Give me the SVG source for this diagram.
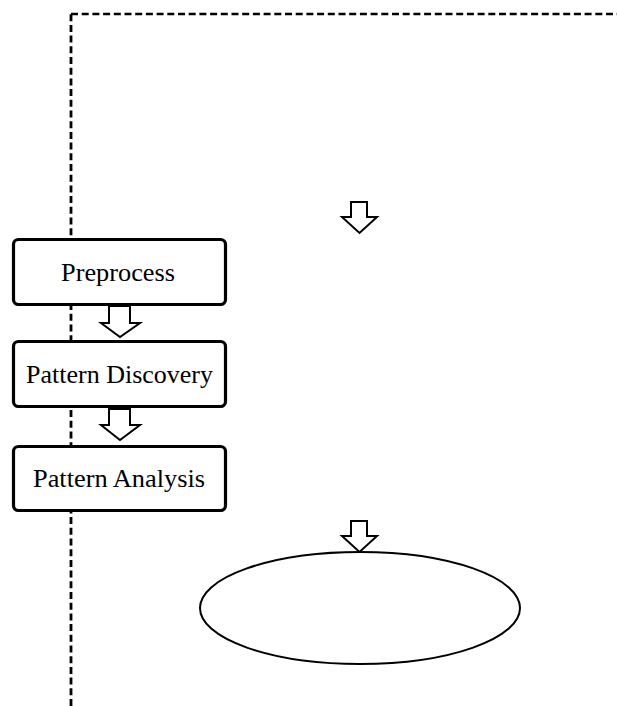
<svg xmlns="http://www.w3.org/2000/svg" width="617" height="706" viewBox="0 0 617 706">
<style>
.dashv{fill:none;stroke:#000;stroke-width:2.8;stroke-dasharray:7 3.7}
.dashh{fill:none;stroke:#000;stroke-width:2.3;stroke-dasharray:7 3.7}
.box{fill:#fff;stroke:#000;stroke-width:3.2}
.arr{fill:#fff;stroke:#000;stroke-width:2;stroke-linejoin:miter}
.lbl{font-family:"Liberation Serif","Times New Roman",serif;font-size:25px;fill:#000;text-anchor:middle}
</style>
<rect width="617" height="706" fill="#fff"/>
<g id="boundary">
<path class="dashv" d="M71,706 V13"/>
<path class="dashh" d="M71,14 H617"/>
</g>
<g id="preprocess">
<rect class="box" x="13.5" y="239.5" width="212" height="65" rx="5"/>
<text class="lbl" x="118" y="281" textLength="114" lengthAdjust="spacingAndGlyphs">Preprocess</text>
</g>
<g id="pattern-discovery">
<rect class="box" x="13.5" y="341.5" width="212" height="65" rx="5"/>
<text class="lbl" x="119.5" y="383" textLength="187" lengthAdjust="spacingAndGlyphs">Pattern Discovery</text>
</g>
<g id="pattern-analysis">
<rect class="box" x="13.5" y="446.5" width="212" height="64" rx="5"/>
<text class="lbl" x="119" y="487" textLength="172" lengthAdjust="spacingAndGlyphs">Pattern Analysis</text>
</g>
<g id="result">
<ellipse cx="360" cy="608" rx="160" ry="56" fill="#fff" stroke="#000" stroke-width="2"/>
</g>
<g id="connectors">
<path class="arr" d="M351,202 H367 V217 H377 L359.5,233 L342,217 H351 Z"/>
<path class="arr" d="M109,306 H130 V323 H140 L120,337 L101,323 H109 Z"/>
<path class="arr" d="M109,409 H130 V425 H140 L120,440 L101,425 H109 Z"/>
<path class="arr" d="M351,521 H367 V536 H377 L359.5,552 L342,536 H351 Z"/>
</g>
</svg>
